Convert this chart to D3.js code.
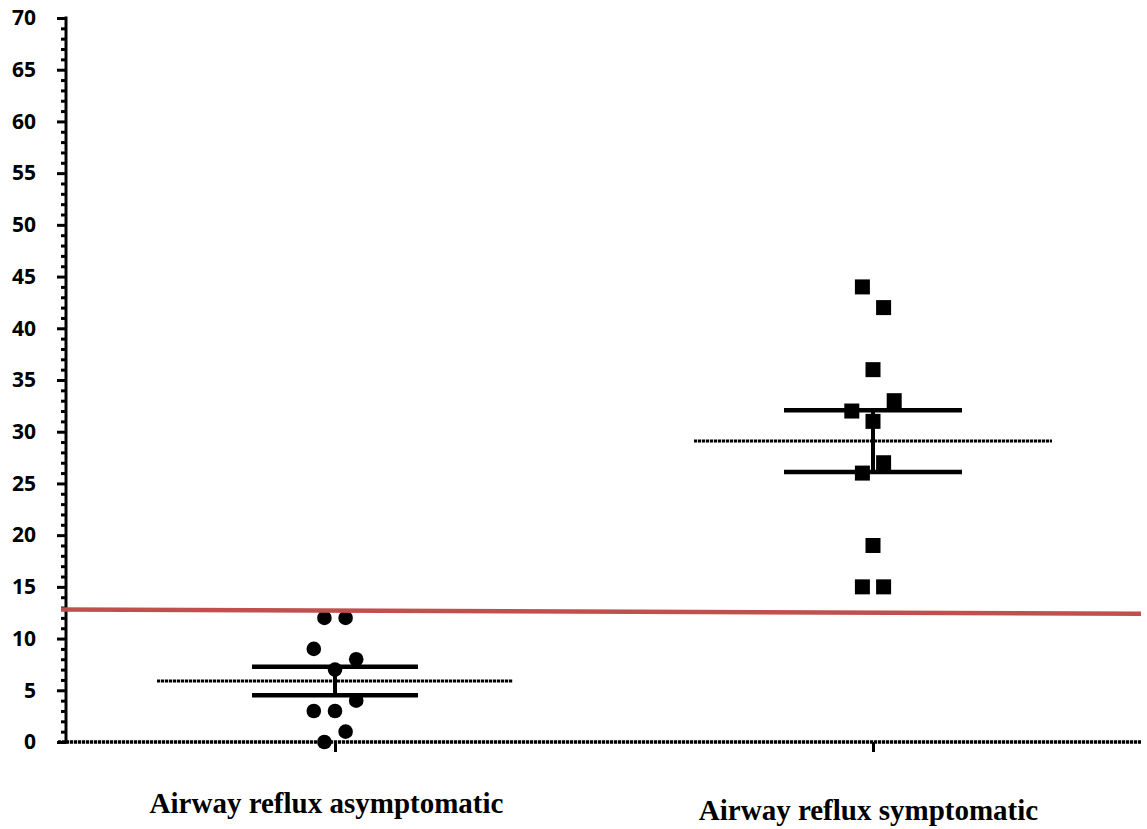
<!DOCTYPE html>
<html>
<head>
<meta charset="utf-8">
<script src="https://cdn.jsdelivr.net/npm/d3@7"></script>
<style>
  html, body { margin: 0; padding: 0; background: #fff; }
  svg { display: block; }
</style>
</head>
<body>
<svg id="chart" width="1147" height="829"></svg>
<script>
// Group names along the x axis
const categories = ["Airway reflux asymptomatic", "Airway reflux symptomatic"];

// Individual values per group
const asymptomaticValues = [12, 12, 9, 8, 7, 4, 3, 3, 1, 0];
const symptomaticValues  = [44, 42, 36, 33, 32, 31, 27, 26, 19, 15, 15];

// Horizontal scatter slot of each point (column offset within its group)
const asymptomaticSlots = [-1, 1, -2, 2, 0, 2, -2, 0, 1, -1];
const symptomaticSlots  = [-1, 1, 0, 2, -2, 0, 1, -1, 0, -1, 1];

// Y axis ticks
const yMajorTicks = [0, 5, 10, 15, 20, 25, 30, 35, 40, 45, 50, 55, 60, 65, 70];

// Cut-off reference line (value at left end, value at right end)
const cutoffLine = [12.8, 12.4];

const groups = [
  { name: categories[0], values: asymptomaticValues, slots: asymptomaticSlots, shape: "circle", capHalf: 83, meanHalf: 178 },
  { name: categories[1], values: symptomaticValues,  slots: symptomaticSlots,  shape: "square", capHalf: 89, meanHalf: 179 }
];

const svg = d3.select("#chart");

const y = d3.scaleLinear().domain([0, 70]).range([742, 18]);
const x = d3.scalePoint().domain(categories).range([335, 873]);
const axisX = 66;
const slotW = 10.6;

// Y axis: major ticks with labels, minor ticks every unit
const yAxis = d3.axisLeft(y)
  .tickValues(yMajorTicks)
  .tickSize(9)
  .tickPadding(21)
  .tickFormat(d3.format("d"));
const gY = svg.append("g").attr("transform", `translate(${axisX},0)`).call(yAxis);
gY.select(".domain").remove();
gY.selectAll(".tick line").attr("stroke", "#000").attr("stroke-width", 3);
gY.selectAll(".tick text")
  .attr("font-family", "'Open Sans', 'Noto Sans', sans-serif")
  .attr("font-weight", "bold")
  .attr("font-size", 21)
  .attr("fill", "#000");

const yMinor = d3.axisLeft(y).tickValues(d3.range(0, 71).filter(v => v % 5 !== 0)).tickSize(5).tickFormat("");
const gYm = svg.append("g").attr("transform", `translate(${axisX},0)`).call(yMinor);
gYm.select(".domain").remove();
gYm.selectAll(".tick line").attr("stroke", "#000").attr("stroke-width", 3);

svg.append("line")
  .attr("x1", axisX).attr("x2", axisX)
  .attr("y1", y(70) - 1.5).attr("y2", y(0) + 1.5)
  .attr("stroke", "#000").attr("stroke-width", 3);

// X axis baseline (dotted texture) and category ticks
svg.append("line")
  .attr("x1", 58).attr("x2", 1141)
  .attr("y1", y(0)).attr("y2", y(0))
  .attr("stroke", "#000").attr("stroke-width", 3.5)
  .attr("stroke-dasharray", "3.2,0.8");

const xAxis = d3.axisBottom(x).tickSize(10).tickFormat("");
const gX = svg.append("g").attr("transform", `translate(0,${y(0)})`).call(xAxis);
gX.select(".domain").remove();
gX.selectAll(".tick line").attr("stroke", "#000").attr("stroke-width", 3);

// Category labels
const labelY = [813, 820];
const labelShift = [-8.5, -4.5];
svg.selectAll("text.cat")
  .data(categories)
  .join("text")
  .attr("class", "cat")
  .attr("x", (d, i) => x(d) + labelShift[i])
  .attr("y", (d, i) => labelY[i])
  .attr("text-anchor", "middle")
  .attr("font-family", "'Liberation Serif', 'Times New Roman', serif")
  .attr("font-weight", "bold")
  .attr("font-size", 29)
  .attr("fill", "#000")
  .text(d => d);

// Mean and SEM for each group
groups.forEach(g => {
  const mean = d3.mean(g.values);
  const sem = d3.deviation(g.values) / Math.sqrt(g.values.length);
  const cx = x(g.name);
  const gg = svg.append("g");

  // mean line
  gg.append("line")
    .attr("x1", cx - g.meanHalf).attr("x2", cx + g.meanHalf)
    .attr("y1", y(mean)).attr("y2", y(mean))
    .attr("stroke", "#000").attr("stroke-width", 3)
    .attr("stroke-dasharray", "3.2,0.8");

  // SEM caps and connecting stem
  [mean + sem, mean - sem].forEach(v => {
    gg.append("line")
      .attr("x1", cx - g.capHalf).attr("x2", cx + g.capHalf)
      .attr("y1", y(v)).attr("y2", y(v))
      .attr("stroke", "#000").attr("stroke-width", 4.5);
  });
  gg.append("line")
    .attr("x1", cx).attr("x2", cx)
    .attr("y1", y(mean + sem)).attr("y2", y(mean - sem))
    .attr("stroke", "#000").attr("stroke-width", 4);

  // individual points
  const pts = g.values.map((v, i) => ({ v, s: g.slots[i] }));
  if (g.shape === "circle") {
    gg.selectAll("circle.pt").data(pts).join("circle")
      .attr("class", "pt")
      .attr("cx", d => cx + d.s * slotW)
      .attr("cy", d => y(d.v))
      .attr("r", 7.3)
      .attr("fill", "#000");
  } else {
    const sz = 15;
    gg.selectAll("rect.pt").data(pts).join("rect")
      .attr("class", "pt")
      .attr("x", d => cx + d.s * slotW - sz / 2)
      .attr("y", d => y(d.v) - sz / 2)
      .attr("width", sz).attr("height", sz)
      .attr("fill", "#000");
  }
});

// Cut-off reference line
svg.append("line")
  .attr("x1", 61).attr("x2", 1141)
  .attr("y1", y(cutoffLine[0])).attr("y2", y(cutoffLine[1]))
  .attr("stroke", "#c0504d").attr("stroke-width", 4.5);
</script>
</body>
</html>
